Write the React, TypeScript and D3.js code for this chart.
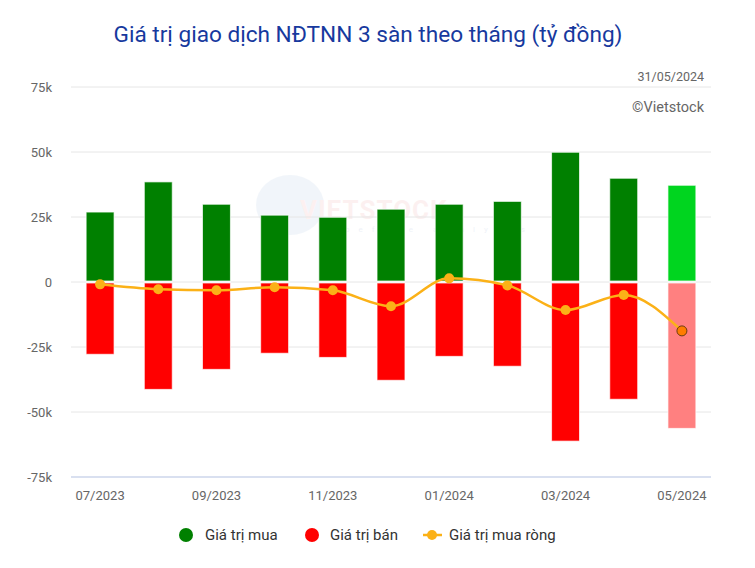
import React from "react";
import * as d3 from "d3";

const categories = ["07/2023","08/2023","09/2023","10/2023","11/2023","12/2023","01/2024","02/2024","03/2024","04/2024","05/2024"];
const buyValues = [26900, 38500, 29900, 25700, 24900, 28000, 29900, 31000, 49900, 39900, 37200];
const sellValues = [-27800, -41300, -33600, -27400, -29000, -37800, -28600, -32400, -61200, -45100, -56300];
const netValues = [-900, -2800, -3200, -2000, -3200, -9300, 1400, -1300, -10800, -5000, -18800];
const yTicks = [-75000, -50000, -25000, 0, 25000, 50000, 75000];
const yTickLabels = ["-75k", "-50k", "-25k", "0", "25k", "50k", "75k"];

const W = 755, H = 568;
const left = 71, right = 711, top = 87, bottom = 477;
const font = "Roboto, 'Noto Sans', sans-serif";

export default function App() {
  const x = d3.scaleBand<string>().domain(categories).range([left, right]).paddingInner(0.52).paddingOuter(0.26);
  const y = d3.scaleLinear().domain([-75000, 75000]).range([bottom, top]);
  const cx = (c: string) => (x(c) as number) + x.bandwidth() / 2;
  const last = categories.length - 1;
  const line = d3.line<number>().x((_, i) => cx(categories[i])).y((d) => y(d)).curve(d3.curveMonotoneX);

  return (
    <svg width={W} height={H} style={{ position: "absolute", left: 0, top: 0, fontFamily: font }}>
      <rect x={0} y={0} width={W} height={H} fill="#fff" />
      <text x={368} y={42} textAnchor="middle" fontSize={22.5} fill="#17399e" textLength={509} lengthAdjust="spacingAndGlyphs">Giá trị giao dịch NĐTNN 3 sàn theo tháng (tỷ đồng)</text>
      {/* watermark */}
      <g opacity={0.08}>
        <ellipse cx={290} cy={205} rx={34} ry={30} fill="#5b8fc9" />
        <text x={300} y={219} fontSize={26} fontWeight="bold" fill="#e05050" letterSpacing={1}>VIETSTOCK</text>
        <text x={345} y={232} fontSize={8} fill="#2a5aa8" letterSpacing={9}>before analysis</text>
      </g>
      {yTicks.map((t, i) => (
        <g key={t}>
          {t !== -75000 && <line x1={left} x2={right} y1={y(t)} y2={y(t)} stroke="#e6e6e6" strokeWidth={1} />}
          <text x={52} y={y(t) + 4.5} textAnchor="end" fontSize={13} fill="#666">{yTickLabels[i]}</text>
        </g>
      ))}
      <line x1={left} x2={right} y1={y(-75000)} y2={y(-75000)} stroke="#ccd6eb" strokeWidth={1.5} />
      {categories.map((c, i) => (
        i % 2 === 0 ? <text key={c} x={cx(c)} y={500} textAnchor="middle" fontSize={13} fill="#666">{c}</text> : null
      ))}
      {categories.map((c, i) => (
        <g key={"b" + c}>
          <rect x={x(c)} y={y(buyValues[i])} width={x.bandwidth()} height={y(0) - 1 - y(buyValues[i])}
            fill={i === last ? "#00d51f" : "#008000"} stroke="#ffffff" strokeOpacity={0.7} strokeWidth={1} />
          <rect x={x(c)} y={y(0) + 1} width={x.bandwidth()} height={y(sellValues[i]) - y(0) - 1}
            fill={i === last ? "#ff8080" : "#ff0000"} stroke="#ffffff" strokeOpacity={0.7} strokeWidth={1} />
        </g>
      ))}
      <path d={line(netValues) || ""} fill="none" stroke="#fbb117" strokeWidth={2.5} />
      {netValues.map((v, i) => (
        <circle key={"n" + i} cx={cx(categories[i])} cy={y(v)} r={5}
          fill={i === last ? "#ff7c00" : "#fbb117"} stroke={i === last ? "#6b3a12" : "none"} strokeWidth={1} />
      ))}
      <text x={704} y={81} textAnchor="end" fontSize={12.5} fill="#666">31/05/2024</text>
      <text x={704} y={112} textAnchor="end" fontSize={14.5} fill="#666">©Vietstock</text>
      {/* legend */}
      <g fontSize={15} fill="#333">
        <circle cx={186} cy={535} r={7} fill="#008000" />
        <text x={205} y={540}>Giá trị mua</text>
        <circle cx={312} cy={535} r={7} fill="#ff0000" />
        <text x={330} y={540}>Giá trị bán</text>
        <line x1={423} x2={442} y1={535} y2={535} stroke="#fbb117" strokeWidth={2.5} />
        <circle cx={432} cy={535} r={5} fill="#fbb117" />
        <text x={449} y={540}>Giá trị mua ròng</text>
      </g>
    </svg>
  );
}
